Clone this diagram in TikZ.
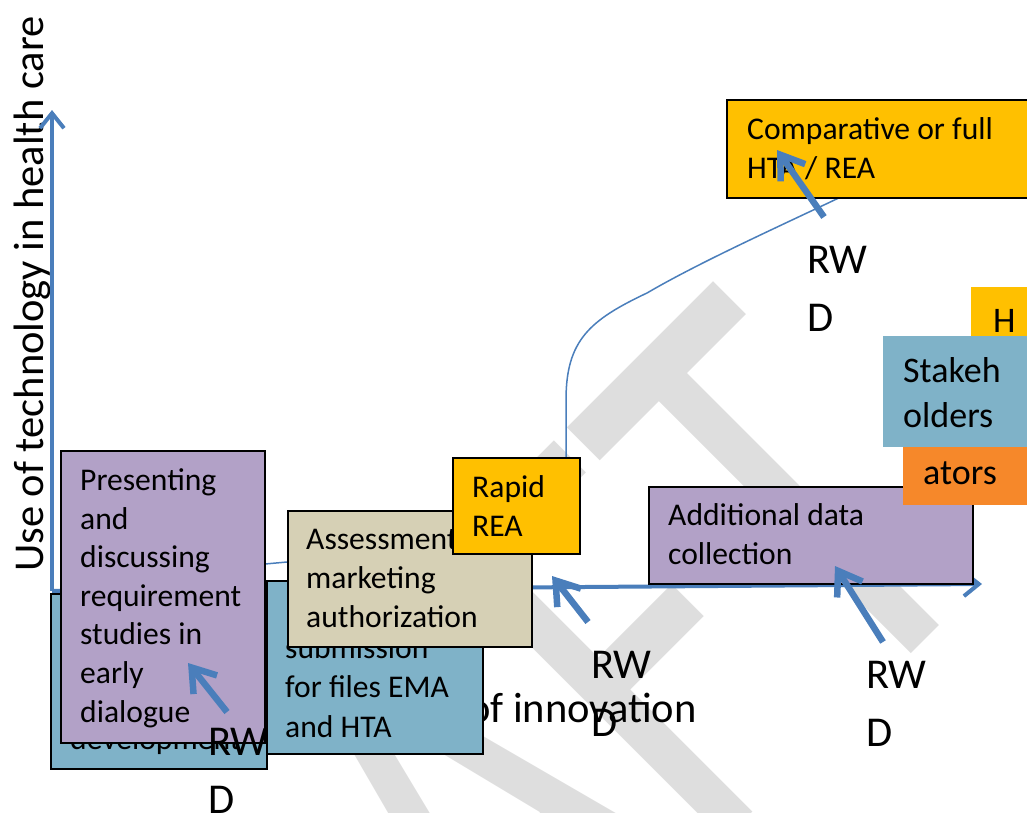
\documentclass[tikz,border=0pt]{standalone}
\usepackage{fontspec}
\setmainfont{Carlito}
\usepackage{xcolor}
\usepackage{tikz}
\usetikzlibrary{arrows.meta}
\definecolor{axblue}{RGB}{74,126,187}
\definecolor{hyellow}{RGB}{255,192,0}
\definecolor{hpurple}{RGB}{178,161,199}
\definecolor{hteal}{RGB}{127,178,200}
\definecolor{hbeige}{RGB}{214,208,181}
\definecolor{horange}{RGB}{246,136,42}
\definecolor{wmgrey}{RGB}{222,222,222}

\begin{document}
\begin{tikzpicture}[x=1pt,y=-1pt,
            box/.style={draw=black,line width=1.5pt,inner sep=0pt,anchor=north west},
            flat/.style={inner sep=0pt,anchor=north west},
            txt/.style={inner sep=0pt,anchor=base west,align=left,font=\fontsize{31.6}{38.6}\selectfont},
            mid/.style={inner sep=0pt,anchor=base west,align=left,font=\fontsize{36}{45}\selectfont},
            big/.style={inner sep=0pt,anchor=base west,align=left,font=\fontsize{42.5}{58}\selectfont},
            axis/.style={draw=axblue,line width=4pt,-{Straight Barb[length=15pt,width=24pt]}},
            rwd/.style={draw=axblue,line width=6.5pt,-{Straight Barb[length=22pt,width=30pt]}}]
            \useasboundingbox (0,0) rectangle (1027,812);
            \clip (0,0) rectangle (1027,812);
            % watermark
            \node[text=wmgrey,inner sep=0pt,anchor=base east,rotate=45,xscale=0.71,font=\fontsize{628}{628}\selectfont] (draft) at (1002,563) {DRAFT};
            % axes and labels (multi-line nodes sit on their last baseline)
            \node[big,rotate=90] (ylabel) at (43,572) {Use of technology in health care};
            \node[big,anchor=base east] (xlabel) at (697,722) {of innovation};
            \coordinate (origin) at (52,591);
            \coordinate (ytop) at (52,110);
            \coordinate (xend) at (982,584);
            \draw[axis] (origin) -- (ytop);
            \draw[axis] (origin) -- (xend);
            % uptake curve
            \draw[axblue,line width=1.5pt] (origin) .. controls (150,575) and (220,568) .. (287,562)
                .. controls (420,550) and (566,520) .. (566,457) -- (566,400)
                .. controls (566,340) and (590,320) .. (647,293)
                .. controls (700,262) and (780,226) .. (845,195);
            % boxes
            \node[box,fill=hteal,minimum width=216pt,minimum height=175pt] (devbox) at (50,593) {};
            \node[txt] (devtxt) at (70,749) {development};
            \node[box,fill=hteal,minimum width=216pt,minimum height=173pt] (subbox) at (266,580) {};
            \node[txt,font=\fontsize{31.6}{39.5}\selectfont] (subtxt) at (285,737) {submission\\for files EMA\\and HTA};
            \node[box,fill=hpurple,minimum width=204pt,minimum height=292pt] (earlybox) at (60,450) {};
            \node[txt] (earlytxt) at (80,722) {Presenting\\and\\discussing\\requirement\\studies in\\early\\dialogue};
            \node[box,fill=hbeige,minimum width=244pt,minimum height=136pt] (mabox) at (287,510) {};
            \node[txt] (matxt) at (306,627) {Assessment\\marketing\\authorization};
            \node[box,fill=hyellow,minimum width=127pt,minimum height=96pt] (reabox) at (452,457) {};
            \node[txt] (reatxt) at (472,536) {Rapid\\REA};
            \node[box,fill=hpurple,minimum width=324pt,minimum height=97pt] (databox) at (648,486) {};
            \node[txt] (datatxt) at (668,564) {Additional data\\collection};
            \node[box,fill=hyellow,minimum width=320pt,minimum height=98pt] (htabox) at (726,99) {};
            \node[txt] (htatxt) at (747,178) {Comparative or full\\HTA / REA};
            \node[flat,fill=hyellow,minimum width=70pt,minimum height=60pt] (hbox) at (971,287) {};
            \node[mid] (htxt) at (993,332) {H};
            \node[flat,fill=hteal,minimum width=150pt,minimum height=111pt] (stakebox) at (883,336) {};
            \node[mid] (staketxt) at (903,427) {Stakeh\\olders};
            \node[flat,fill=horange,minimum width=130pt,minimum height=58pt] (atorbox) at (903,447) {};
            \node[mid] (atortxt) at (923,484) {ators};
            % real world data
            \node[big] (rwd1) at (807,331) {RW\\D};
            \node[big] (rwd2) at (866,746) {RW\\D};
            \node[big] (rwd3) at (591,736) {RW\\D};
            \node[big] (rwd4) at (208,813) {RW\\D};
            \coordinate (rwd1tail) at (824,217);
            \coordinate (rwd1tip) at (777,150);
            \coordinate (rwd2tail) at (883,642);
            \coordinate (rwd2tip) at (835,566);
            \coordinate (rwd3tail) at (588,622);
            \coordinate (rwd3tip) at (552,576);
            \coordinate (rwd4tail) at (227,712);
            \coordinate (rwd4tip) at (188,663);
            \draw[rwd] (rwd1tail) -- (rwd1tip);
            \draw[rwd] (rwd2tail) -- (rwd2tip);
            \draw[rwd] (rwd3tail) -- (rwd3tip);
            \draw[rwd] (rwd4tail) -- (rwd4tip);
        \end{tikzpicture}
\end{document}
